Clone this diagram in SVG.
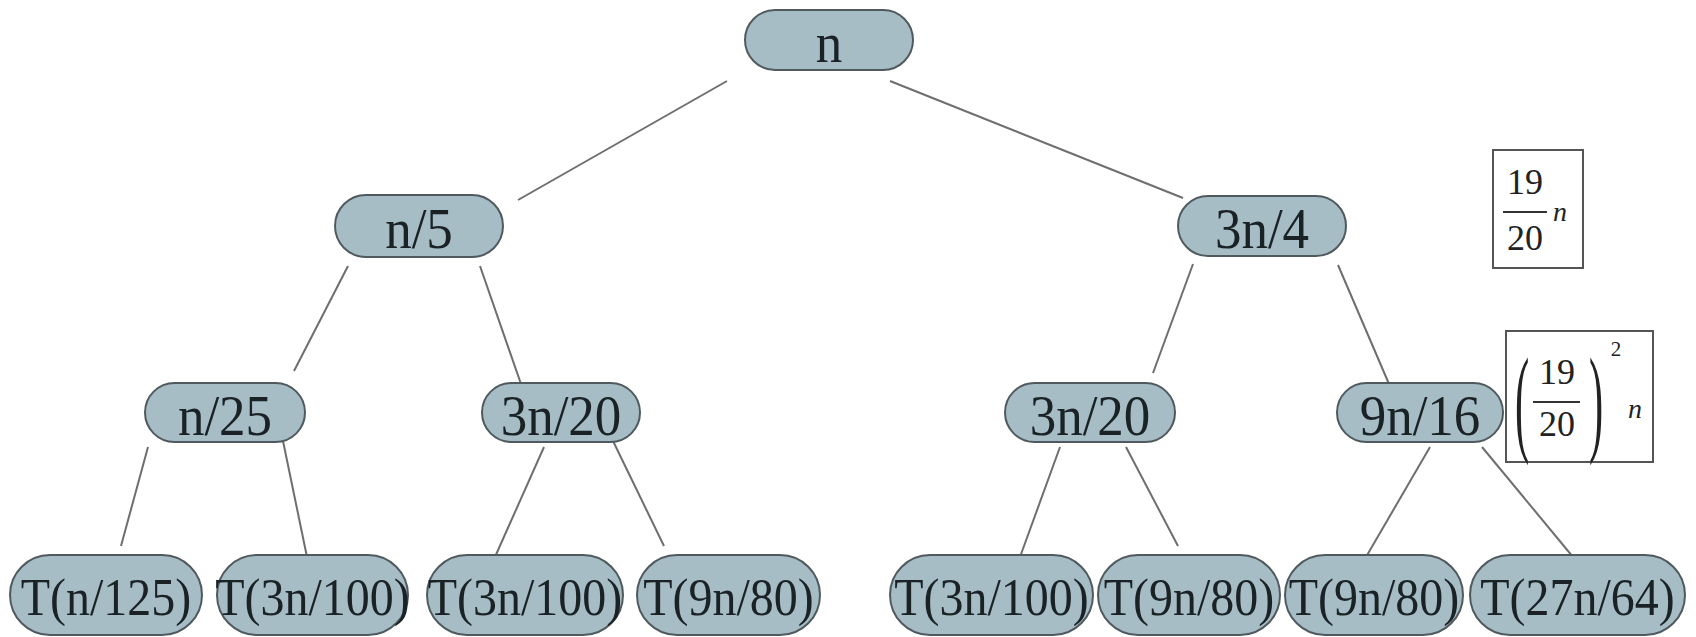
<svg xmlns="http://www.w3.org/2000/svg" width="1696" height="637" viewBox="0 0 1696 637">
<style>
.pill{fill:#a6bdc6;stroke:#505a5e;stroke-width:2}
.t{font-family:"Liberation Serif","Times New Roman",serif;fill:#1a2226;text-anchor:middle}
.big{font-size:53px}
.leaf{font-size:48px}
.conn line{stroke:#6e6e6e;stroke-width:2}
.box{fill:#fff;stroke:#555;stroke-width:2}
.m{font-family:"Liberation Serif","Times New Roman",serif;fill:#222;text-anchor:middle}
</style>
<rect width="1696" height="637" fill="#fff"/>
<g class="conn" id="connectors">
<line x1="727" y1="81" x2="518" y2="200"/>
<line x1="890" y1="81" x2="1183" y2="198"/>
<line x1="348" y1="266" x2="294" y2="371"/>
<line x1="480" y1="266" x2="521" y2="384"/>
<line x1="1193" y1="264" x2="1153" y2="373"/>
<line x1="1338" y1="265" x2="1389" y2="384"/>
<line x1="148" y1="447" x2="121" y2="546"/>
<line x1="283" y1="441" x2="307" y2="557"/>
<line x1="544" y1="447" x2="495" y2="557"/>
<line x1="613" y1="441" x2="664" y2="546"/>
<line x1="1060" y1="447" x2="1020" y2="557"/>
<line x1="1126" y1="447" x2="1178" y2="546"/>
<line x1="1430" y1="447" x2="1366" y2="557"/>
<line x1="1482" y1="447" x2="1573" y2="557"/>
</g>
<g id="root"><rect class="pill" x="745" y="10" width="168" height="60" rx="30"/><text class="t big" transform="translate(829,62) scale(1,1.08)">n</text></g>
<g id="n5"><rect class="pill" x="335" y="195" width="168" height="62" rx="31"/><text class="t big" transform="translate(419,248) scale(1,1.08)">n/5</text></g>
<g id="n3_4"><rect class="pill" x="1178" y="196" width="168" height="60" rx="30"/><text class="t big" transform="translate(1262,248) scale(1,1.08)">3n/4</text></g>
<g id="n25"><rect class="pill" x="145" y="383" width="160" height="59" rx="29.5"/><text class="t big" transform="translate(225,435) scale(1,1.08)">n/25</text></g>
<g id="n3_20a"><rect class="pill" x="482" y="383" width="158" height="59" rx="29.5"/><text class="t big" transform="translate(561,435) scale(1,1.08)">3n/20</text></g>
<g id="n3_20b"><rect class="pill" x="1005" y="383" width="170" height="59" rx="29.5"/><text class="t big" transform="translate(1090,435) scale(1,1.08)">3n/20</text></g>
<g id="n9_16"><rect class="pill" x="1337" y="383" width="166" height="59" rx="29.5"/><text class="t big" transform="translate(1420,435) scale(1,1.08)">9n/16</text></g>
<g id="leaf1"><rect class="pill" x="10" y="555" width="192" height="80" rx="40"/><text class="t leaf" transform="translate(106,615) scale(1,1.12)">T(n/125)</text></g>
<g id="leaf2"><rect class="pill" x="217" y="555" width="191" height="80" rx="40"/><text class="t leaf" transform="translate(312.5,615) scale(1,1.12)">T(3n/100)</text></g>
<g id="leaf3"><rect class="pill" x="427" y="555" width="196" height="80" rx="40"/><text class="t leaf" transform="translate(525,615) scale(1,1.12)">T(3n/100)</text></g>
<g id="leaf4"><rect class="pill" x="637" y="555" width="183" height="80" rx="40"/><text class="t leaf" transform="translate(728.5,615) scale(1,1.12)">T(9n/80)</text></g>
<g id="leaf5"><rect class="pill" x="890" y="555" width="203" height="80" rx="40"/><text class="t leaf" transform="translate(991.5,615) scale(1,1.12)">T(3n/100)</text></g>
<g id="leaf6"><rect class="pill" x="1098" y="555" width="182" height="80" rx="40"/><text class="t leaf" transform="translate(1189,615) scale(1,1.12)">T(9n/80)</text></g>
<g id="leaf7"><rect class="pill" x="1285" y="555" width="178" height="80" rx="40"/><text class="t leaf" transform="translate(1374,615) scale(1,1.12)">T(9n/80)</text></g>
<g id="leaf8"><rect class="pill" x="1470" y="555" width="215" height="80" rx="40"/><text class="t leaf" transform="translate(1577.5,615) scale(1,1.12)">T(27n/64)</text></g>
<g id="sum1">
<rect class="box" x="1493" y="150" width="90" height="118"/>
<text class="m" x="1525" y="194" font-size="36">19</text>
<line x1="1503" y1="212" x2="1547" y2="212" stroke="#333" stroke-width="2"/>
<text class="m" x="1525" y="250" font-size="36">20</text>
<text class="m" x="1560" y="221" font-size="28" font-style="italic">n</text>
</g>
<g id="sum2">
<rect class="box" x="1506" y="331" width="147" height="131"/>
<text class="m" transform="translate(1522,440) scale(0.36,1)" font-size="118">(</text>
<text class="m" transform="translate(1596,440) scale(0.36,1)" font-size="118">)</text>
<text class="m" x="1557" y="384" font-size="36">19</text>
<line x1="1533" y1="402" x2="1580" y2="402" stroke="#333" stroke-width="2"/>
<text class="m" x="1557" y="436" font-size="36">20</text>
<text class="m" x="1616" y="356" font-size="21">2</text>
<text class="m" x="1635" y="418" font-size="28" font-style="italic">n</text>
</g>
</svg>
